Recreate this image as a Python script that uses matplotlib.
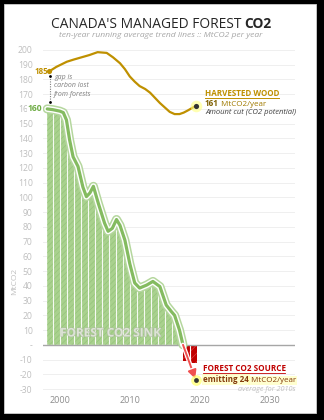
import matplotlib
matplotlib.use("Agg")
import matplotlib.pyplot as plt
import matplotlib.patheffects as pe
from matplotlib.patches import Rectangle
import numpy as np

# ---------------- data ----------------
sink_years = [1998.2, 1999.0, 2000.0, 2000.5, 2000.95, 2001.4, 2001.9, 2002.6, 2003.3,
              2003.8, 2004.3, 2004.8, 2005.5, 2006.4, 2006.9, 2007.5, 2008.1, 2008.6,
              2009.3, 2010.0, 2010.7, 2011.4, 2012.4, 2013.3, 2014.3, 2015.2, 2015.95,
              2016.4, 2017.1, 2017.6]
sink_vals = [160, 159.5, 158.5, 157.5, 152.5, 139, 127.5, 121, 107,
             100.5, 103, 107.5, 96, 82.5, 77, 79, 85, 81,
             71, 55, 42, 38.5, 40.5, 43, 39.5, 27, 22.5,
             20, 10, 0]

source_years = [2017.6, 2019.5]
source_vals = [0, -24]
source_bar_years = [2018.1, 2019.15]
source_bar_vals = [-11, -12.5]

wood_years = [1998.5, 1999.5, 2001.0, 2002.0, 2003.1, 2004.2, 2005.4, 2006.7, 2007.6,
              2008.6, 2009.3, 2010.0, 2010.7, 2011.4, 2012.2, 2012.9, 2013.6, 2014.3,
              2015.0, 2015.7, 2016.4, 2017.1, 2017.7, 2018.3, 2019.4]
wood_vals = [185.5, 188.5, 192, 193.5, 195, 196.5, 198.5, 198, 195,
             191, 187, 182, 178.5, 175.5, 173.5, 171, 167.5, 164,
             161, 158, 156.5, 156.5, 157.5, 159, 162]

yticks = list(range(-30, 201, 10))
xticks = [2000, 2010, 2020, 2030]

# ---------------- figure ----------------
W, H = 324, 420
fig = plt.figure(figsize=(W / 100, H / 100), dpi=100)
fig.patch.set_facecolor("black")
fig.patches.append(Rectangle((4 / W, 7 / H), 312 / W, 409 / H, transform=fig.transFigure,
                             facecolor="white", edgecolor="#d0d0d0", lw=0.6, zorder=-10))

def P(x, y):
    return (x / W, 1 - y / H)

FONT = "Open Sans"
plt.rcParams["font.family"] = [FONT, "DejaVu Sans"]
plt.rcParams["hatch.linewidth"] = 0.5

ax_l, ax_r, ax_t, ax_b = 43, 295, 47, 392
ax = fig.add_axes([ax_l / W, 1 - ax_b / H, (ax_r - ax_l) / W, (ax_b - ax_t) / H])
ax.set_facecolor("none")
ax.set_xlim(1997.6, 2033.6)
ax.set_ylim(-32, 202)
for s in ax.spines.values():
    s.set_visible(False)
ax.set_yticks(yticks)
ax.set_yticklabels(["-" if v == 0 else str(v) for v in yticks])
ax.set_xticks(xticks)
ax.tick_params(axis="both", length=0)
ax.tick_params(axis="y", labelsize=6.2, labelcolor="#bfbfbf", pad=7.5)
ax.tick_params(axis="x", labelsize=6.5, labelcolor="#8c8c8c", pad=3)
for v in yticks:
    ax.axhline(v, color="#a6a6a6" if v == 0 else "#efefef", lw=1.0 if v == 0 else 0.7,
               zorder=0 if v != 0 else 3)

# green sink area
sy = np.array(sink_years); sv = np.array(sink_vals)
poly = ax.fill_between(sy, sv, 0, facecolor="#a9d18e", edgecolor="#96c57b",
                       hatch="//////", lw=0, zorder=1)
vl = ax.vlines(np.arange(1999, 2018), 0, 200, colors="white", lw=0.8, alpha=0.9, zorder=2)
vl.set_clip_path(poly.get_paths()[0], ax.transData)

# red source bars
bars = ax.bar(source_bar_years, source_bar_vals, width=1.0, color="#c00000",
              edgecolor="#d94040", lw=0, hatch="////", zorder=2)
ax.vlines([2018.6], -12.5, 0, colors="white", lw=0.8, zorder=2)

# green trend line
ax.plot(sy, sv, color="#84bb60", lw=2.3, zorder=4, solid_capstyle="round",
        path_effects=[pe.Stroke(linewidth=6.5, foreground="#b5d79e"),
                      pe.Stroke(linewidth=4.3, foreground="white"), pe.Normal()])

# red arrow (source)
ax.annotate("", xy=(source_years[1] - 0.15, source_vals[1] + 1.0),
            xytext=(source_years[0], source_vals[0]),
            arrowprops=dict(arrowstyle="-|>,head_length=0.5,head_width=0.25",
                            color="#f05050", lw=1.4, shrinkA=0, shrinkB=0,
                            path_effects=[pe.Stroke(linewidth=3.2, foreground="white"), pe.Normal()]),
            zorder=5)
ax.scatter([source_years[1]], [source_vals[1]], s=60, color="#ffff66", alpha=0.7, zorder=5, lw=0)
ax.scatter([source_years[1]], [source_vals[1]], s=12, color="#333333", zorder=6, lw=0)

# harvested wood line
ax.plot(wood_years, wood_vals, color="#bf9000", lw=1.6, zorder=4)
ax.scatter([wood_years[0]], [wood_vals[0]], s=14, color="#bf9000", zorder=5, lw=0)
ax.scatter([wood_years[-1]], [wood_vals[-1]], s=70, color="#ffff80", alpha=0.6, zorder=5, lw=0)
ax.scatter([wood_years[-1]], [wood_vals[-1]], s=14, color="#333333", zorder=6, lw=0)

# gap indicator
ax.plot([1998.57, 1998.57], [182.4, 164.7], color="#7f7f7f", lw=0.8, ls=(0, (1, 1.2)), zorder=4)
ax.scatter([1998.57, 1998.57], [182.4, 164.7], s=4, color="black", zorder=5, lw=0)

# ---------------- texts ----------------
t1 = fig.text(*P(51, 27.5), "CANADA'S MANAGED FOREST", fontsize=9.9, color="#262626",
              ha="left", va="baseline", family=FONT)
ax.annotate("CO2", xy=(1, 0), xycoords=t1, xytext=(3, 0), textcoords="offset pixels",
            fontsize=9.9, fontweight="bold", color="#262626", ha="left", va="bottom",
            annotation_clip=False)
fig.text(*P(161, 35.5), "ten-year running average trend lines :: MtCO2 per year", fontsize=6.1,
         style="italic", color="#a6a6a6", ha="center", va="center")

fig.text(*P(15, 281), "MtCO2", rotation=90, fontsize=6, color="#bfbfbf", ha="center", va="center")

fig.text(*P(48.5, 71), "185", fontsize=5.8, fontweight="bold", color="#bf9000", ha="right", va="center")
fig.text(*P(42, 108.5), "160", fontsize=6.2, fontweight="bold", color="#70ad47", ha="right",
         va="center", bbox=dict(facecolor="white", edgecolor="none", pad=0.3))
fig.text(*P(54, 74), "gap is\ncarbon lost\nfrom forests", fontsize=5, style="italic",
         color="#7f7f7f", ha="left", va="top", linespacing=1.25)

fig.text(*P(205, 94), "HARVESTED WOOD", fontsize=5.8, fontweight="bold", color="#bf9000",
         ha="left", va="center")
fig.lines.append(plt.Line2D([205 / W, 279 / W], [1 - 98.3 / H] * 2, transform=fig.transFigure,
                            color="#bf9000", lw=0.7))
t2 = fig.text(*P(205, 106), "161", fontsize=5.8, fontweight="bold", color="#7f6000",
              ha="left", va="baseline")
ax.annotate(" MtCO2/year", xy=(1, 0), xycoords=t2, fontsize=5.8, color="#a07a00",
            ha="left", va="bottom", annotation_clip=False)
fig.text(*P(205, 113), "Amount cut (CO2 potential)", fontsize=5.5, style="italic",
         color="#404040", ha="left", va="center")

fig.text(*P(110, 333), "FOREST CO2 SINK", fontsize=8.5, fontweight="bold", color="#dde3d6",
         ha="center", va="center", zorder=7,
         path_effects=[pe.Stroke(linewidth=0.8, foreground="#aebfa0"), pe.Normal()])

fig.text(*P(203, 368.5), "FOREST CO2 SOURCE", fontsize=5.9, fontweight="bold", color="#c00000",
         ha="left", va="center", zorder=7)
fig.lines.append(plt.Line2D([203 / W, 285 / W], [1 - 373.3 / H] * 2, transform=fig.transFigure,
                            color="#c00000", lw=0.6))
t3 = fig.text(*P(203, 382), "emitting 24", fontsize=5.8, fontweight="bold", color="#843c0c",
              ha="left", va="baseline",
              bbox=dict(facecolor="#ffffa0", edgecolor="none", alpha=0.5, pad=0.8))
ax.annotate(" MtCO2/year", xy=(1, 0), xycoords=t3, fontsize=5.8, color="#843c0c",
            ha="left", va="bottom", annotation_clip=False,
            bbox=dict(facecolor="#ffffa0", edgecolor="none", alpha=0.5, pad=0.8))
fig.text(*P(296, 389.5), "average for 2010s", fontsize=5.2, style="italic", color="#bfbfbf",
         ha="right", va="center")

fig.savefig("out.png", dpi=100, facecolor=fig.get_facecolor())
